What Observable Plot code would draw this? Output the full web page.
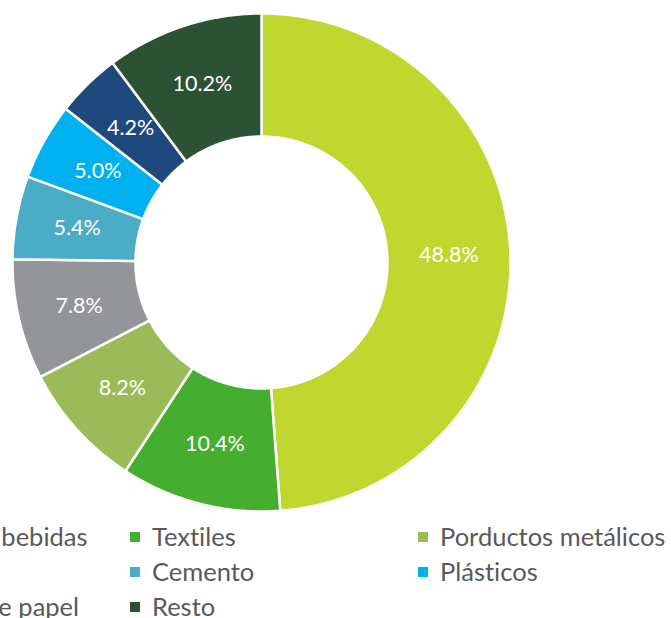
<!DOCTYPE html>
<html><head><meta charset="utf-8">
<script src="https://cdn.jsdelivr.net/npm/d3@7"></script>
<script src="https://cdn.jsdelivr.net/npm/@observablehq/plot@0.6"></script>
<style>
html,body{margin:0;padding:0;background:#fff;overflow:hidden;width:671px;height:618px}
#chart{position:relative;width:671px;height:618px}
#legend{position:absolute;left:0;top:520px;width:671px;height:98px;font-family:"Lato";font-size:25.5px;color:#595959;font-variant-ligatures:none;font-feature-settings:"liga" 0,"clig" 0}
.item{position:absolute;white-space:nowrap;display:flex;align-items:center;line-height:1;height:30px}
.sw{width:10px;height:10px;margin-right:12px;flex:none}
svg text{font-variant-ligatures:none}
</style></head><body><div id="chart"><div id="plot"></div><div id="legend"></div></div>
<script>
const categories = ["Alimentos y bebidas","Textiles","Porductos metálicos","Químicos","Cemento","Plásticos","Productos de papel","Resto"];
const values = [48.8,10.4,8.2,7.8,5.4,5.0,4.2,10.2];
const colors = ["#C0D72F","#46AE2F","#9BBB59","#939598","#4BACC6","#00B0F0","#1F497D","#2C5234"];
const labels = values.map(v => v.toFixed(1) + "%");

const W = 671, H = 520, cx = 261, cy = 262, R = 249, r0 = 126;
const slices = d3.pie().sort(null).value(d => d.value)(categories.map((c, i) => ({category: c, value: values[i], label: labels[i]})));
const pts = [];
slices.forEach(s => {
  const n = Math.max(4, Math.ceil((s.endAngle - s.startAngle) / 0.01));
  for (let k = 0; k <= n; k++) {
    const a = s.startAngle + (s.endAngle - s.startAngle) * k / n;
    pts.push({category: s.data.category, x: R * Math.sin(a), y: R * Math.cos(a)});
  }
  for (let k = n; k >= 0; k--) {
    const a = s.startAngle + (s.endAngle - s.startAngle) * k / n;
    pts.push({category: s.data.category, x: r0 * Math.sin(a), y: r0 * Math.cos(a)});
  }
});
const rm = (R + r0) / 2;
const labelData = slices.map(s => {
  const a = (s.startAngle + s.endAngle) / 2;
  return {label: s.data.label, x: rm * Math.sin(a), y: rm * Math.cos(a)};
});

const chart = Plot.plot({
  width: W, height: H, margin: 0,
  x: {domain: [-cx, W - cx], axis: null},
  y: {domain: [cy - H, cy], axis: null},
  color: {domain: categories, range: colors},
  marks: [
    Plot.line(pts, {x: "x", y: "y", z: "category", fill: "category", stroke: "white", strokeWidth: 2.5, curve: "linear-closed"}),
    Plot.text(labelData, {x: "x", y: "y", text: "label", fill: "white", fontSize: 21.5, fontFamily: "Lato", textAnchor: "middle", lineAnchor: "middle"})
  ]
});
document.getElementById("plot").appendChild(chart);

const legend = document.getElementById("legend");
const colX = [-158, 130, 418], rowY = [17, 52, 87];
categories.forEach((c, i) => {
  const it = document.createElement("div");
  it.className = "item";
  it.style.left = colX[i % 3] + "px";
  it.style.top = (rowY[Math.floor(i / 3)] - 15) + "px";
  const sw = document.createElement("span");
  sw.className = "sw";
  sw.style.background = colors[i];
  const tx = document.createElement("span");
  tx.textContent = c;
  it.appendChild(sw); it.appendChild(tx);
  legend.appendChild(it);
});
</script></body></html>
